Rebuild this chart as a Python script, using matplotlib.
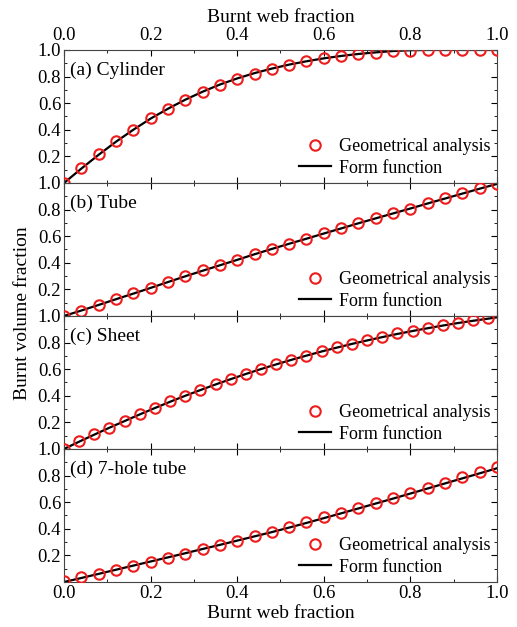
import numpy as np
import matplotlib.pyplot as plt
from matplotlib.ticker import MultipleLocator

plt.rcParams['font.family'] = ['Liberation Serif', 'DejaVu Serif']
plt.rcParams['font.size'] = 13

# burnt web fraction grids
web = [0.00, 0.04, 0.08, 0.12, 0.16, 0.20, 0.24, 0.28, 0.32, 0.36, 0.40, 0.44, 0.48,
       0.52, 0.56, 0.60, 0.64, 0.68, 0.72, 0.76, 0.80, 0.84, 0.88, 0.92, 0.96, 1.00]
web_sheet = [0.000, 0.035, 0.070, 0.105, 0.140, 0.175, 0.210, 0.245, 0.280, 0.315,
             0.350, 0.385, 0.420, 0.455, 0.490, 0.525, 0.560, 0.595, 0.630, 0.665,
             0.700, 0.735, 0.770, 0.805, 0.840, 0.875, 0.910, 0.945, 0.980]
web_sheet_line = web_sheet + [1.000]

# (a) cylinder
cyl_geo = [0.0, 0.11, 0.216, 0.313, 0.402, 0.486, 0.557, 0.626, 0.684, 0.735, 0.784, 0.822, 0.855,
           0.888, 0.919, 0.939, 0.954, 0.97, 0.98, 0.99, 0.995, 1.0, 1.0, 1.0, 1.0, 1.0]
cyl_ff = [0.0, 0.108, 0.212, 0.31, 0.40, 0.484, 0.558, 0.626, 0.686, 0.74, 0.786, 0.826, 0.86,
          0.89, 0.915, 0.937, 0.955, 0.97, 0.982, 0.992, 0.998, 1.0, 1.0, 1.0, 1.0, 1.0]

# (b) tube
tube_geo = [0.0, 0.038, 0.081, 0.127, 0.17, 0.21, 0.256, 0.30, 0.344, 0.382, 0.422, 0.467, 0.506,
            0.544, 0.579, 0.622, 0.659, 0.699, 0.734, 0.772, 0.807, 0.847, 0.885, 0.922, 0.96, 0.99]
tube_ff = [0.0, 0.041, 0.083, 0.126, 0.168, 0.211, 0.255, 0.298, 0.34, 0.381, 0.422, 0.464, 0.504,
           0.543, 0.581, 0.62, 0.658, 0.697, 0.734, 0.771, 0.808, 0.846, 0.883, 0.92, 0.957, 0.993]

# (c) sheet
sheet_geo = [0.0, 0.057, 0.11, 0.16, 0.213, 0.262, 0.31, 0.357, 0.402, 0.444, 0.487, 0.527,
             0.566, 0.600, 0.636, 0.669, 0.702, 0.735, 0.763, 0.792, 0.82, 0.844, 0.869,
             0.89, 0.91, 0.93, 0.95, 0.968, 0.985]
sheet_ff = [0.0, 0.055, 0.108, 0.16, 0.21, 0.26, 0.308, 0.355, 0.40, 0.443, 0.485, 0.525,
            0.564, 0.601, 0.636, 0.67, 0.702, 0.733, 0.762, 0.79, 0.816, 0.841, 0.865,
            0.887, 0.908, 0.928, 0.947, 0.964, 0.98, 0.99]

# (d) 7-hole tube
hole7_geo = [0.01, 0.035, 0.06, 0.092, 0.12, 0.153, 0.178, 0.21, 0.246, 0.278, 0.31, 0.345, 0.373,
             0.414, 0.449, 0.491, 0.519, 0.556, 0.591, 0.629, 0.667, 0.709, 0.742, 0.787, 0.825, 0.862]
hole7_ff = [0.0, 0.03, 0.061, 0.092, 0.123, 0.154, 0.185, 0.216, 0.248, 0.279, 0.311, 0.343, 0.375,
            0.409, 0.444, 0.48, 0.516, 0.553, 0.59, 0.627, 0.665, 0.703, 0.741, 0.779, 0.817, 0.855]

panels = [
    ("(a) Cylinder", web, cyl_geo, web, cyl_ff),
    ("(b) Tube", web, tube_geo, web, tube_ff),
    ("(c) Sheet", web_sheet, sheet_geo, web_sheet_line, sheet_ff),
    ("(d) 7-hole tube", web, hole7_geo, web, hole7_ff),
]

fig, axes = plt.subplots(4, 1, sharex=True, figsize=(5.17, 6.27), dpi=100)
fig.subplots_adjust(left=0.1238, right=0.9613, top=0.9203, bottom=0.0718, hspace=0)

for i, (ax, (name, xg, yg, xf, yf)) in enumerate(zip(axes, panels)):
    ax.plot(xg, yg, "o", mfc="none", mec="#ee1c1c", ms=7.5, mew=1.5,
            label="Geometrical analysis", zorder=3)
    ax.plot(xf, yf, "k-", lw=1.6, label="Form function", zorder=2)
    ax.set_xlim(0, 1)
    ax.set_ylim(0, 1)
    ax.set_yticks([0.2, 0.4, 0.6, 0.8, 1.0])
    ax.yaxis.set_minor_locator(MultipleLocator(0.1))
    ax.xaxis.set_major_locator(MultipleLocator(0.2))
    ax.xaxis.set_minor_locator(MultipleLocator(0.1))
    ax.tick_params(which="both", direction="in", top=True, right=True,
                   labelbottom=False, labelsize=13.5, pad=2)
    ax.tick_params(which="major", length=4)
    ax.tick_params(which="minor", length=2)
    for s in ax.spines.values():
        s.set_color("#444444")
    ax.text(0.015, 0.85, name, transform=ax.transAxes, ha="left", va="center", fontsize=14)
    ax.legend(loc="lower right", frameon=False, fontsize=13, handlelength=1.8,
              handletextpad=0.45, borderaxespad=0.15, labelspacing=0.25, borderpad=0.2)

axes[0].tick_params(axis="x", labeltop=True, pad=4)
axes[0].xaxis.set_label_position("top")
axes[0].set_xlabel("Burnt web fraction", fontsize=14, labelpad=4)
axes[-1].tick_params(labelbottom=True)
axes[-1].set_xlabel("Burnt web fraction", fontsize=14, labelpad=2)
axes[-1].set_xticks([0.0, 0.2, 0.4, 0.6, 0.8, 1.0])
axes[-1].set_xticklabels(["0.0", "0.2", "0.4", "0.6", "0.8", "1.0"])

fig.text(0.043, 0.5, "Burnt volume fraction", rotation=90, ha="center", va="center", fontsize=14)

fig.savefig("out.png", dpi=100)
